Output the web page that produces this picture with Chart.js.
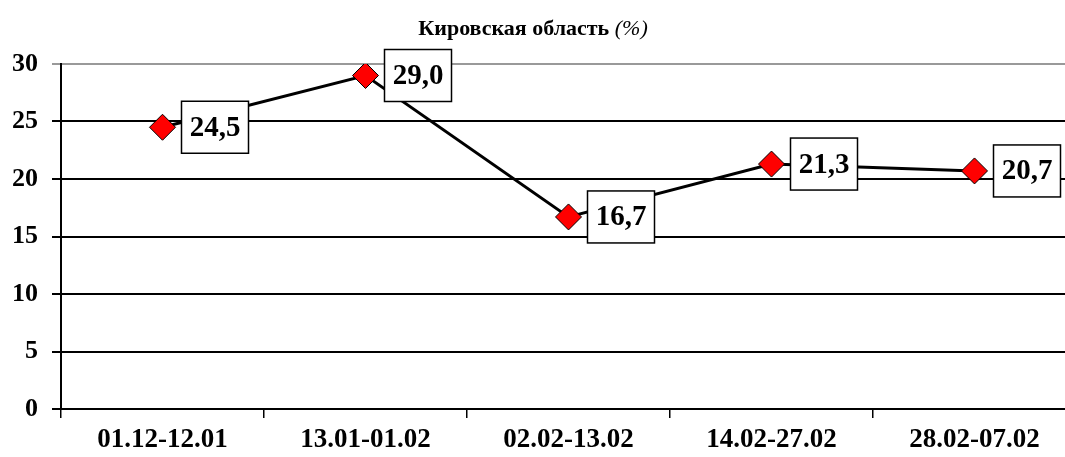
<!DOCTYPE html>
<html>
<head>
<meta charset="utf-8">
<script src="https://cdn.jsdelivr.net/npm/chart.js@4"></script>
<style>
  body { margin: 0; overflow: hidden; background: #fff; }
  #wrap { width: 1090px; height: 457px; }
</style>
</head>
<body>
<div id="wrap"><canvas id="grafico" width="1090" height="457"></canvas></div>
<script>
// datos del grafico
const periodos = ['01.12-12.01', '13.01-01.02', '02.02-13.02', '14.02-27.02', '28.02-07.02'];
const valores = [24.5, 29.0, 16.7, 21.3, 20.7];
const tituloRegion = 'Кировская область ';
const tituloUnidad = '(%)';

const fuente = "'Liberation Serif', 'Times New Roman', serif";

// titulo con dos estilos (negrita + cursiva)
const tituloPlugin = {
  id: 'titulo',
  afterDraw(chart) {
    const ctx = chart.ctx;
    ctx.save();
    ctx.fillStyle = '#000';
    ctx.textBaseline = 'alphabetic';
    ctx.font = 'bold 22px ' + fuente;
    const w1 = ctx.measureText(tituloRegion).width;
    ctx.font = 'italic 22px ' + fuente;
    const w2 = ctx.measureText(tituloUnidad).width;
    let x = 533 - (w1 + w2) / 2;
    ctx.font = 'bold 22px ' + fuente;
    ctx.fillText(tituloRegion, x, 35);
    ctx.font = 'italic 22px ' + fuente;
    ctx.fillText(tituloUnidad, x + w1, 35);
    ctx.restore();
  }
};

// etiquetas de valores en recuadros blancos
const etiquetasPlugin = {
  id: 'etiquetas',
  afterDatasetsDraw(chart) {
    const ctx = chart.ctx;
    const meta = chart.getDatasetMeta(0);
    ctx.save();
    meta.data.forEach((pt, i) => {
      const texto = valores[i].toFixed(1).replace('.', ',');
      const bx = pt.x + 19;
      const by = pt.y - 26;
      ctx.fillStyle = '#fff';
      ctx.fillRect(bx, by, 67, 52);
      ctx.strokeStyle = '#000';
      ctx.lineWidth = 1.5;
      ctx.strokeRect(bx, by, 67, 52);
      ctx.fillStyle = '#000';
      ctx.font = 'bold 29px ' + fuente;
      ctx.textAlign = 'center';
      ctx.textBaseline = 'middle';
      ctx.fillText(texto, bx + 33.5, pt.y + 1);
    });
    ctx.restore();
  }
};

const ctx = document.getElementById('grafico').getContext('2d');
const miGrafico = new Chart(ctx, {
  type: 'line',
  data: {
    labels: periodos,
    datasets: [{
      data: valores,
      borderColor: '#000',
      borderWidth: 3,
      pointStyle: 'rectRot',
      pointRadius: 13,
      pointBackgroundColor: '#ff0000',
      pointBorderColor: '#000',
      pointBorderWidth: 1,
      tension: 0
    }]
  },
  options: {
    responsive: false,
    animation: false,
    devicePixelRatio: 1,
    layout: { padding: { top: 64, right: 14, left: 0, bottom: 0 } },
    plugins: {
      legend: { display: false },
      title: { display: false },
      tooltip: { enabled: false }
    },
    scales: {
      x: {
        offset: true,
        grid: {
          offset: true,
          drawOnChartArea: false,
          drawTicks: true,
          tickLength: 9,
          color: '#000',
          lineWidth: 1.5
        },
        border: { color: '#000', width: 2 },
        ticks: {
          color: '#000',
          font: { family: fuente, size: 27, weight: 'bold' },
          padding: 6,
          maxRotation: 0
        },
        afterFit(scale) { scale.height = 48; }
      },
      y: {
        min: 0,
        max: 30,
        ticks: {
          stepSize: 5,
          color: '#000',
          font: { family: fuente, size: 26, weight: 'bold' },
          padding: 14
        },
        grid: {
          color: (c) => c.index === 6 ? '#999' : '#000',
          lineWidth: 2,
          tickLength: 9
        },
        border: { color: '#000', width: 2 },
        afterFit(scale) { scale.width = 61; }
      }
    }
  },
  plugins: [tituloPlugin, etiquetasPlugin]
});
</script>
</body>
</html>
